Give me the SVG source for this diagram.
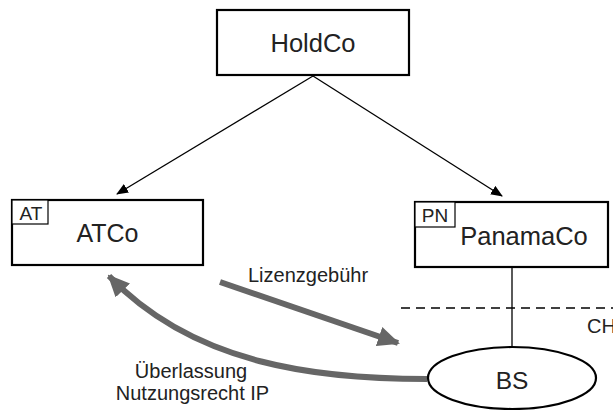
<svg xmlns="http://www.w3.org/2000/svg" width="613" height="410" viewBox="0 0 613 410">
<style>
  .box{fill:#fff;stroke:#000;stroke-width:2.2}
  .small{fill:#fff;stroke:#000;stroke-width:1.2}
  .t{font-family:"Liberation Sans",Arial,sans-serif;fill:#222}
  .line{stroke:#000;stroke-width:1.3;fill:none}
  .grey{stroke:#666;stroke-width:6;fill:none}
</style>
<defs>
  <marker id="ah" markerWidth="12" markerHeight="10" refX="11" refY="5" orient="auto" markerUnits="userSpaceOnUse">
    <path d="M0,0 L12,5 L0,10 Z" fill="#000"/>
  </marker>
  <marker id="gh" markerWidth="22" markerHeight="20" refX="20" refY="10" orient="auto" markerUnits="userSpaceOnUse">
    <path d="M0,0 L22,10 L0,20 Z" fill="#666"/>
  </marker>
</defs>
<g id="connectors">
  <line class="line" x1="313" y1="76" x2="117" y2="194" marker-end="url(#ah)"/>
  <line class="line" x1="313" y1="76" x2="502" y2="196" marker-end="url(#ah)"/>
  <line class="line" x1="512" y1="267" x2="512" y2="347"/>
  <line x1="401" y1="308" x2="613" y2="308" stroke="#000" stroke-width="1.5" stroke-dasharray="9,6"/>
  <line class="grey" x1="220" y1="282" x2="398" y2="343" marker-end="url(#gh)"/>
  <path class="grey" d="M427,379 C 320,379 195,366 109,276" marker-end="url(#gh)"/>
</g>
<g id="holdco">
  <rect class="box" x="217" y="10" width="192" height="65"/>
  <text class="t" x="313" y="52" font-size="25.5" text-anchor="middle">HoldCo</text>
</g>
<g id="atco">
  <rect class="box" x="12" y="200" width="191" height="65"/>
  <rect class="small" x="12" y="200" width="36" height="24"/>
  <text class="t" x="31" y="220" font-size="19" text-anchor="middle">AT</text>
  <text class="t" x="107.5" y="242" font-size="25" text-anchor="middle">ATCo</text>
</g>
<g id="panamaco">
  <rect class="box" x="415" y="202" width="193" height="65"/>
  <rect class="small" x="415" y="202" width="40" height="25"/>
  <text class="t" x="435" y="222" font-size="19" text-anchor="middle">PN</text>
  <text class="t" x="524" y="245" font-size="25.5" text-anchor="middle">PanamaCo</text>
</g>
<g id="bs">
  <ellipse cx="512" cy="378" rx="84" ry="31" fill="#fff" stroke="#000" stroke-width="2.2"/>
  <text class="t" x="512" y="389" font-size="24.5" text-anchor="middle">BS</text>
</g>
<g id="labels">
  <text class="t" x="308" y="282" font-size="20" text-anchor="middle">Lizenzgebühr</text>
  <text class="t" x="587" y="333" font-size="20">CH</text>
  <text class="t" x="191" y="378" font-size="20" text-anchor="middle">Überlassung</text>
  <text class="t" x="192.5" y="400" font-size="20" text-anchor="middle">Nutzungsrecht IP</text>
</g>
</svg>
